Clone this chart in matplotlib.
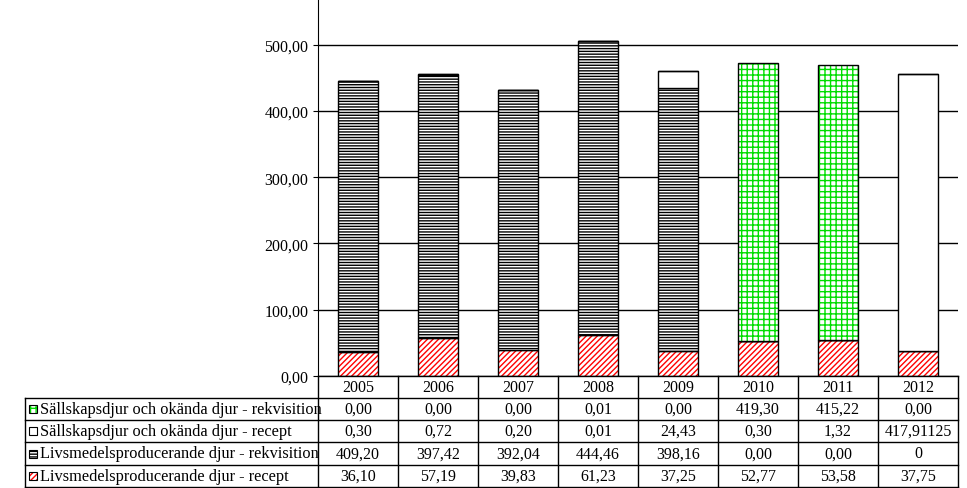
import matplotlib
matplotlib.use("Agg")
import matplotlib.pyplot as plt
import numpy as np
plt.rcParams['font.family'] = 'Liberation Serif'
plt.rcParams['hatch.linewidth'] = 1.0

years = ['2005','2006','2007','2008','2009','2010','2011','2012']
series_names = ['Sällskapsdjur och okända djur - rekvisition',
                'Sällskapsdjur och okända djur - recept',
                'Livsmedelsproducerande djur - rekvisition',
                'Livsmedelsproducerande djur - recept']
livs_recept = [36.10, 57.19, 39.83, 61.23, 37.25, 52.77, 53.58, 37.75]
livs_rekv = [409.20, 397.42, 392.04, 444.46, 398.16, 0.00, 0.00, 0]
sall_recept = [0.30, 0.72, 0.20, 0.01, 24.43, 0.30, 1.32, 417.91125]
sall_rekv = [0.00, 0.00, 0.00, 0.01, 0.00, 419.30, 415.22, 0.00]
labels_text = [
    ['0,00','0,00','0,00','0,01','0,00','419,30','415,22','0,00'],
    ['0,30','0,72','0,20','0,01','24,43','0,30','1,32','417,91125'],
    ['409,20','397,42','392,04','444,46','398,16','0,00','0,00','0'],
    ['36,10','57,19','39,83','61,23','37,25','52,77','53,58','37,75'],
]

W, H = 967, 489
fig = plt.figure(figsize=(W/100, H/100), dpi=100)
L, R, B = 318, 958, 377
ax = fig.add_axes([L/W, 1-B/H, (R-L)/W, B/H])
x = np.arange(len(years))
order = [livs_recept, livs_rekv, sall_recept, sall_rekv]
styles = [('red', '//////'), ('black', '------'), ('red', '::'), ('#00dd00', '+++')]
bottom = np.zeros(len(years))
for vals, (col, hatch) in zip(order, styles):
    v = np.array(vals, float)
    ax.bar(x, v, 0.5, bottom=bottom, color='white', edgecolor=col, hatch=hatch, linewidth=0)
    ax.bar(x, v, 0.5, bottom=bottom, fill=False, edgecolor='black', linewidth=1)
    bottom += v
ax.set_xlim(-0.5, 7.5)
ax.set_ylim(0, 569)
ax.set_yticks(np.arange(0, 501, 100))
ax.set_yticklabels([f'{v:.2f}'.replace('.', ',') for v in np.arange(0, 501, 100)], fontsize=11.5)
ax.yaxis.grid(True, color='black', linewidth=1)
ax.set_axisbelow(True)
ax.set_xticks([])
for s in ['top', 'right', 'bottom']:
    ax.spines[s].set_visible(False)

tax = fig.add_axes([0, 0, 1, 1])
tax.set_xlim(0, W); tax.set_ylim(H, 0); tax.axis('off')
rows = [377, 399, 421, 443, 466, 488]
cols = [L + i*80 for i in range(9)]
lw = 1
tax.plot([L, R], [377, 377], color='black', lw=lw)
for yy in rows[1:]:
    tax.plot([25, R], [yy, yy], color='black', lw=lw)
for xx in cols:
    tax.plot([xx, xx], [377, 488], color='black', lw=lw)
tax.plot([25, 25], [399, 488], color='black', lw=lw)
for i, yr in enumerate(years):
    tax.text(L + 40 + i*80, 388, yr, ha='center', va='center', fontsize=11.5)
for r in range(4):
    yc = (rows[r+1] + rows[r+2]) / 2
    col, hatch = styles[3 - r]
    tax.add_patch(plt.Rectangle((29, yc-4), 8, 8, facecolor='white', edgecolor=col, hatch=hatch, lw=0))
    tax.add_patch(plt.Rectangle((29, yc-4), 8, 8, fill=False, edgecolor='black', lw=0.8))
    tax.text(40, yc, series_names[r], ha='left', va='center', fontsize=11.8)
    for i in range(8):
        tax.text(L + 40 + i*80, yc, labels_text[r][i], ha='center', va='center', fontsize=11.5)
fig.savefig('out.png', dpi=100)
